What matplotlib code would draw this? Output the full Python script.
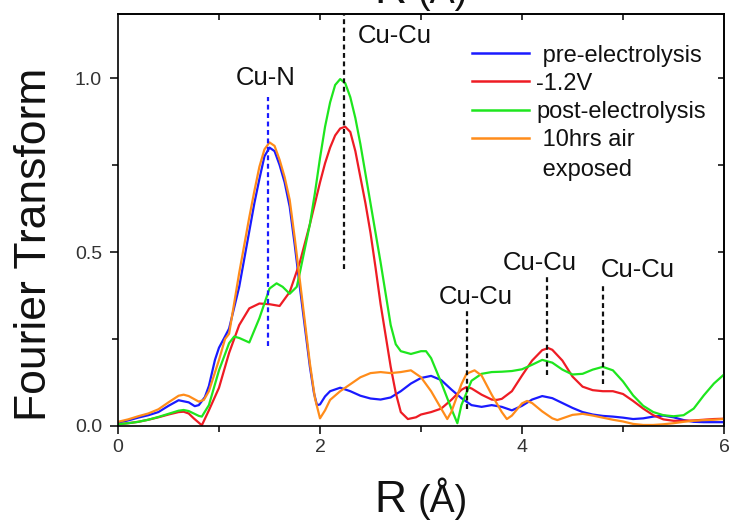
import matplotlib
matplotlib.use("Agg")
import matplotlib.pyplot as plt
from matplotlib.ticker import MultipleLocator

plt.rcParams['font.family'] = ['Liberation Sans', 'DejaVu Sans']

# Fourier-transformed EXAFS magnitude vs. radial distance R (Å)
r_pre = [0.0, 0.1, 0.2, 0.3, 0.4, 0.5, 0.6, 0.7, 0.76, 0.8, 0.86, 0.9, 0.96, 1.0, 1.05,
         1.1, 1.2, 1.25, 1.3, 1.35, 1.4, 1.45, 1.5, 1.55, 1.6, 1.65, 1.7, 1.75, 1.8,
         1.85, 1.9, 1.94, 1.97, 2.0, 2.05, 2.1, 2.2, 2.3, 2.4, 2.5, 2.6, 2.7, 2.8, 2.9,
         3.0, 3.1, 3.2, 3.3, 3.4, 3.5, 3.6, 3.7, 3.8, 3.9, 4.0, 4.1, 4.2, 4.3, 4.4, 4.5,
         4.6, 4.7, 4.8, 4.9, 5.0, 5.1, 5.2, 5.3, 5.4, 5.5, 5.6, 5.7, 5.8, 5.9, 6.0]
ft_pre = [0.010, 0.016, 0.024, 0.031, 0.040, 0.058, 0.074, 0.068, 0.057, 0.060, 0.083,
          0.115, 0.190, 0.225, 0.252, 0.280, 0.400, 0.480, 0.560, 0.640, 0.710, 0.775,
          0.800, 0.790, 0.750, 0.700, 0.630, 0.520, 0.400, 0.285, 0.170, 0.095, 0.060,
          0.062, 0.085, 0.100, 0.110, 0.100, 0.087, 0.079, 0.076, 0.082, 0.100, 0.122,
          0.138, 0.144, 0.132, 0.105, 0.080, 0.060, 0.055, 0.060, 0.055, 0.045, 0.058,
          0.076, 0.086, 0.080, 0.066, 0.052, 0.040, 0.033, 0.029, 0.027, 0.024, 0.020,
          0.022, 0.027, 0.030, 0.025, 0.017, 0.012, 0.011, 0.011, 0.011]

r_neg12 = [0.0, 0.1, 0.2, 0.3, 0.4, 0.5, 0.6, 0.65, 0.7, 0.75, 0.83, 0.9, 1.0, 1.1, 1.2,
           1.3, 1.4, 1.5, 1.6, 1.7, 1.8, 1.9, 2.0, 2.05, 2.1, 2.15, 2.2, 2.25, 2.3, 2.35,
           2.4, 2.45, 2.5, 2.55, 2.6, 2.65, 2.7, 2.75, 2.8, 2.87, 2.95, 3.0, 3.1, 3.2,
           3.3, 3.4, 3.45, 3.5, 3.6, 3.7, 3.75, 3.8, 3.9, 4.0, 4.1, 4.2, 4.26, 4.3, 4.4,
           4.5, 4.6, 4.7, 4.8, 4.9, 5.0, 5.1, 5.2, 5.3, 5.4, 5.5, 5.6, 5.7, 5.8, 5.9, 6.0]
ft_neg12 = [0.005, 0.008, 0.012, 0.018, 0.025, 0.033, 0.040, 0.041, 0.036, 0.022, 0.002,
            0.045, 0.110, 0.210, 0.290, 0.338, 0.352, 0.350, 0.345, 0.385, 0.470, 0.580,
            0.700, 0.755, 0.800, 0.835, 0.855, 0.860, 0.845, 0.790, 0.715, 0.640, 0.555,
            0.455, 0.350, 0.260, 0.170, 0.095, 0.040, 0.020, 0.025, 0.033, 0.040, 0.050,
            0.075, 0.104, 0.112, 0.108, 0.090, 0.076, 0.075, 0.078, 0.100, 0.145, 0.188,
            0.218, 0.224, 0.219, 0.188, 0.142, 0.113, 0.103, 0.100, 0.100, 0.092, 0.072,
            0.050, 0.031, 0.019, 0.015, 0.015, 0.016, 0.018, 0.020, 0.021]

r_post = [0.0, 0.1, 0.2, 0.3, 0.4, 0.5, 0.6, 0.65, 0.7, 0.8, 0.83, 0.9, 1.0, 1.1, 1.15,
          1.2, 1.3, 1.4, 1.5, 1.57, 1.63, 1.7, 1.77, 1.8, 1.9, 1.95, 2.0, 2.05, 2.1, 2.15,
          2.2, 2.25, 2.3, 2.35, 2.4, 2.45, 2.5, 2.55, 2.6, 2.65, 2.7, 2.75, 2.8, 2.9, 3.0,
          3.05, 3.1, 3.2, 3.3, 3.36, 3.4, 3.5, 3.6, 3.7, 3.8, 3.9, 4.0, 4.1, 4.2, 4.3,
          4.4, 4.5, 4.6, 4.7, 4.8, 4.9, 5.0, 5.1, 5.2, 5.3, 5.4, 5.5, 5.6, 5.7, 5.8, 5.9,
          6.0]
ft_post = [0.005, 0.008, 0.012, 0.018, 0.026, 0.035, 0.044, 0.046, 0.043, 0.029, 0.027,
           0.060, 0.160, 0.238, 0.257, 0.253, 0.240, 0.310, 0.395, 0.410, 0.400, 0.380,
           0.400, 0.440, 0.580, 0.670, 0.770, 0.860, 0.930, 0.980, 0.997, 0.985, 0.945,
           0.885, 0.810, 0.725, 0.640, 0.555, 0.470, 0.380, 0.290, 0.235, 0.215, 0.207,
           0.215, 0.215, 0.195, 0.125, 0.050, 0.008, 0.060, 0.130, 0.150, 0.155, 0.156,
           0.158, 0.163, 0.176, 0.190, 0.182, 0.162, 0.148, 0.150, 0.162, 0.170, 0.160,
           0.128, 0.088, 0.058, 0.040, 0.031, 0.028, 0.031, 0.050, 0.088, 0.122, 0.148]

r_air = [0.0, 0.1, 0.2, 0.3, 0.4, 0.5, 0.6, 0.65, 0.7, 0.8, 0.85, 0.9, 1.0, 1.06, 1.1,
         1.2, 1.25, 1.3, 1.35, 1.4, 1.45, 1.5, 1.55, 1.6, 1.65, 1.7, 1.75, 1.8, 1.85,
         1.9, 1.95, 2.0, 2.05, 2.1, 2.2, 2.3, 2.4, 2.5, 2.6, 2.7, 2.8, 2.9, 3.0, 3.1,
         3.2, 3.26, 3.3, 3.4, 3.45, 3.53, 3.6, 3.7, 3.8, 3.85, 3.9, 4.0, 4.05, 4.1, 4.2,
         4.3, 4.35, 4.4, 4.5, 4.6, 4.7, 4.8, 4.9, 5.0, 5.1, 5.2, 5.3, 5.4, 5.5, 5.6, 5.7,
         5.8, 5.9, 6.0]
ft_air = [0.012, 0.019, 0.028, 0.036, 0.048, 0.068, 0.087, 0.090, 0.086, 0.070, 0.075,
          0.100, 0.190, 0.250, 0.265, 0.440, 0.520, 0.600, 0.675, 0.745, 0.795, 0.815,
          0.805, 0.765, 0.715, 0.650, 0.540, 0.420, 0.300, 0.180, 0.080, 0.022, 0.045,
          0.075, 0.100, 0.120, 0.140, 0.152, 0.155, 0.152, 0.155, 0.160, 0.140, 0.100,
          0.050, 0.020, 0.040, 0.120, 0.150, 0.160, 0.145, 0.090, 0.040, 0.020, 0.030,
          0.065, 0.072, 0.066, 0.042, 0.022, 0.017, 0.022, 0.032, 0.035, 0.030, 0.024,
          0.018, 0.013, 0.006, 0.003, 0.003, 0.005, 0.008, 0.012, 0.015, 0.017, 0.018,
          0.020]

series_labels = [" pre-electrolysis", "-1.2V", "post-electrolysis", " 10hrs air\n exposed"]
series_colors = ["#1a1aff", "#ee1c24", "#1ee61e", "#ff8c1a"]

# Scattering-path markers: (label, R position, line bottom, line top, text x, text y)
cu_n_marker = ("Cu-N", 1.49, 0.23, 0.945, 1.46, 1.00)
cu_cu_markers = [
    ("Cu-Cu", 2.24, 0.45, 1.18, 2.37, 1.12),
    ("Cu-Cu", 3.46, 0.05, 0.33, 3.54, 0.37),
    ("Cu-Cu", 4.25, 0.147, 0.434, 4.18, 0.468),
    ("Cu-Cu", 4.80, 0.12, 0.41, 5.15, 0.448),
]

x_ticks = [0, 2, 4, 6]
y_ticks = [0.0, 0.5, 1.0]

fig = plt.figure(figsize=(7.31, 5.21), dpi=100)
ax = fig.add_axes([118 / 731, 95 / 521, 606 / 731, 412 / 521])

xs = [r_pre, r_neg12, r_post, r_air]
ys = [ft_pre, ft_neg12, ft_post, ft_air]
for r, ft, lab, col in zip(xs, ys, series_labels, series_colors):
    ax.plot(r, ft, color=col, lw=1.6, label=lab, solid_joinstyle='round')

dash = (0, (2.2, 1.6))
lab, xr, y0, y1, tx, ty = cu_n_marker
ax.plot([xr, xr], [y0, y1], color="#1a1aff", lw=1.6, linestyle=dash)
ax.text(tx, ty, lab, fontsize=18.5, ha='center', va='center', color='#111111')
for lab, xr, y0, y1, tx, ty in cu_cu_markers:
    ax.plot([xr, xr], [y0, y1], color="#111111", lw=1.6, linestyle=dash, clip_on=False)
    ha = 'left' if tx > xr + 0.1 and ty > 1.0 else 'center'
    ax.text(tx, ty, lab, fontsize=18.5, ha=ha, va='center', color='#111111')

ax.set_xlim(0, 6)
ax.set_ylim(0, 1.184)
ax.set_xticks(x_ticks)
ax.set_xticklabels([str(v) for v in x_ticks])
ax.set_yticks(y_ticks)
ax.set_yticklabels([f"{v:.1f}" for v in y_ticks])
ax.xaxis.set_minor_locator(MultipleLocator(1))
ax.yaxis.set_minor_locator(MultipleLocator(0.25))

for s in ax.spines.values():
    s.set_linewidth(1.2)
ax.tick_params(which='both', direction='out', top=False, right=False,
               width=1.1, labelsize=14, labelcolor='#333333')
ax.tick_params(which='major', length=6, pad=3.5)
ax.tick_params(axis='y', which='major', pad=5.5)
ax.tick_params(which='minor', length=4)

# inward ticks on the top and right frame edges
top = ax.secondary_xaxis('top')
top.set_xticks([1, 2, 3, 4, 5])
top.tick_params(direction='in', length=4.5, width=1.1, labeltop=False)
top.spines['top'].set_linewidth(1.2)
right = ax.secondary_yaxis('right')
right.set_yticks([0.25, 0.5, 0.75, 1.0])
right.tick_params(direction='in', length=4.5, width=1.1, labelright=False)
right.spines['right'].set_linewidth(1.2)

ax.set_ylabel("Fourier Transform", fontsize=32, color='#111111')
ax.yaxis.label.set_va('center')
ax.yaxis.set_label_coords(-0.137, 0.44)


def r_label(y_frac):
    t = fig.text(374 / 731, y_frac, "R", fontsize=32, ha='left', va='baseline',
                 color='#111111')
    fig.text(418 / 731, y_frac, "(Å)", fontsize=27, ha='left', va='baseline',
             color='#111111')
    return t


r_label(9 / 521)
# x-axis title of the panel above, cut by the figure edge
r_label(1 - 3 / 521)

leg = ax.legend(loc='upper left', bbox_to_anchor=(472 / 731, 1 - 45 / 521),
                bbox_transform=fig.transFigure, frameon=False, fontsize=17,
                handlelength=2.4, handletextpad=0.32, labelspacing=0.26,
                borderpad=0, borderaxespad=0)
for t in leg.get_texts():
    t.set_color('#111111')
    t.set_linespacing(1.45)
for h in leg.get_lines():
    h.set_linewidth(1.8)
# keep each legend line level with the first line of its label
for column in leg._legend_handle_box.get_children():
    for item in column.get_children():
        item.align = 'top'

fig.savefig("out.png", dpi=100)
